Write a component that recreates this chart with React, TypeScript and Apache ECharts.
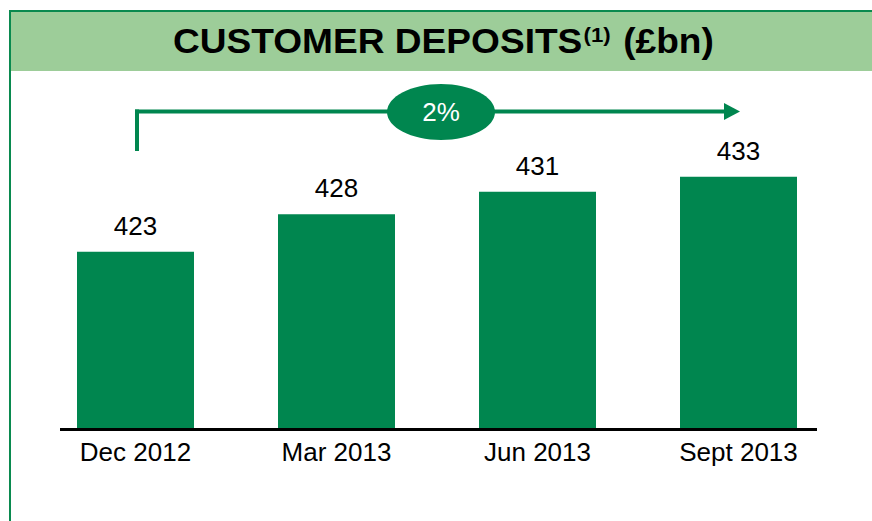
import React, { useEffect, useRef } from "react";
import * as echarts from "echarts";

const categories = ["Dec 2012", "Mar 2013", "Jun 2013", "Sept 2013"];
const deposits = [423, 428, 431, 433];
const growthLabel = "2%";
const titleMain = "CUSTOMER DEPOSITS";
const titleSup = "(1)";
const titleUnit = " (£bn)";

const GREEN = "#00864f";
const FRAME = "#0a8a4f";
const BAND = "#9dcd99";
const FONT = "'Liberation Sans', Arial, sans-serif";

export default function App() {
  const ref = useRef<HTMLDivElement>(null);
  useEffect(() => {
    if (!ref.current) return;
    const chart = echarts.init(ref.current, null, { renderer: "svg" });
    chart.setOption({
      animation: false,
      backgroundColor: "#ffffff",
      grid: { left: 35, right: 33, top: 128, bottom: 93 },
      xAxis: {
        type: "category",
        data: categories,
        axisLine: { show: false },
        axisTick: { show: false },
        axisLabel: { color: "#000", fontSize: 26, fontFamily: FONT, margin: 11 },
      },
      yAxis: {
        type: "value",
        min: 399.5,
        max: 439.5,
        show: false,
        splitLine: { show: false },
      },
      series: [
        {
          type: "bar",
          data: deposits,
          barWidth: 117,
          itemStyle: { color: GREEN },
          label: {
            show: true,
            position: "top",
            distance: 13,
            color: "#000",
            fontSize: 26,
            fontFamily: FONT,
          },
        },
      ],
      graphic: [
        { type: "rect", shape: { x: 10, y: 11, width: 862, height: 60 }, style: { fill: BAND } },
        { type: "line", shape: { x1: 9, y1: 11, x2: 872, y2: 11 }, style: { stroke: FRAME, lineWidth: 2 } },
        { type: "line", shape: { x1: 10, y1: 10, x2: 10, y2: 521 }, style: { stroke: FRAME, lineWidth: 2 } },
        {
          type: "text",
          x: 173,
          y: 41,
          scaleX: 1.06,
          style: {
            text: "{a|" + titleMain + "}{s|" + titleSup + "}{a|" + titleUnit + "}",
            align: "left",
            verticalAlign: "middle",
            fill: "#000",
            rich: {
              a: { fontSize: 35, fontWeight: "bold", fontFamily: FONT, fill: "#000" },
              s: { fontSize: 21, fontWeight: "bold", fontFamily: FONT, fill: "#000", verticalAlign: "top", padding: [1, 2, 0, 1] },
            },
          },
        },
        { type: "line", shape: { x1: 60, y1: 429.5, x2: 817, y2: 429.5 }, style: { stroke: "#000", lineWidth: 3 } },
        { type: "line", shape: { x1: 137, y1: 109.5, x2: 137, y2: 151 }, style: { stroke: GREEN, lineWidth: 4 } },
        { type: "line", shape: { x1: 135, y1: 111.5, x2: 726, y2: 111.5 }, style: { stroke: GREEN, lineWidth: 4 } },
        { type: "polygon", shape: { points: [[724, 103], [740, 111.5], [724, 120]] }, style: { fill: GREEN } },
        { type: "ellipse", shape: { cx: 441, cy: 112, rx: 54, ry: 28 }, style: { fill: GREEN } },
        {
          type: "text",
          x: 441,
          y: 112,
          style: { text: growthLabel, align: "center", verticalAlign: "middle", fill: "#fff", fontSize: 26, fontFamily: FONT },
        },
      ],
    });
    return () => chart.dispose();
  }, []);
  return (
    <div
      ref={ref}
      style={{ position: "fixed", left: 0, top: 0, width: 872, height: 521 }}
    />
  );
}
